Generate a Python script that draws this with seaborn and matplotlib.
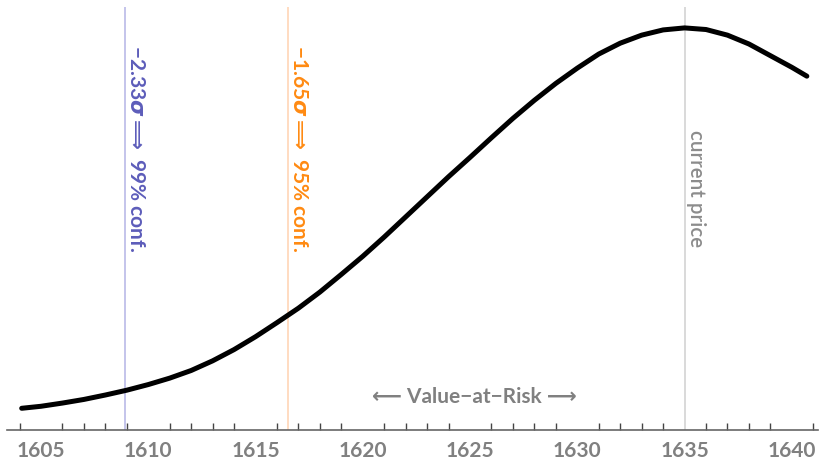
import matplotlib
matplotlib.use("Agg")
import matplotlib.pyplot as plt
import seaborn as sns
from matplotlib.ticker import MultipleLocator

# price axis and curve height (peak = 1)
curve_x = [1604.1, 1605, 1606, 1607, 1608, 1609, 1610, 1611, 1612, 1613, 1614,
           1615, 1616, 1617, 1618, 1619, 1620, 1621, 1622, 1623, 1624, 1625,
           1626, 1627, 1628, 1629, 1630, 1631, 1632, 1633, 1634, 1635, 1636,
           1637, 1638, 1639, 1640, 1640.7]
curve_y = [0.054, 0.059, 0.067, 0.076, 0.087, 0.099, 0.113, 0.129, 0.148, 0.172, 0.200,
           0.232, 0.267, 0.303, 0.343, 0.387, 0.432, 0.480, 0.530, 0.580, 0.630, 0.678,
           0.727, 0.775, 0.820, 0.862, 0.900, 0.935, 0.962, 0.982, 0.995, 1.000, 0.996,
           0.982, 0.960, 0.931, 0.902, 0.880]

# vertical markers
marker_x = [1608.9, 1616.5, 1635.0]
marker_labels = [r"−2.33$\sigma\Longrightarrow$ 99% conf.",
                 r"−1.65$\sigma\Longrightarrow$ 95% conf.",
                 "current price"]
marker_line_colors = ["#b4b4e6", "#ffd2b0", "#d0d0d0"]
marker_text_colors = ["#5d5dba", "#ff8a12", "#8c8c8c"]
marker_text_top = [0.958, 0.958, 0.746]
marker_weights = ["bold", "bold", "semibold"]
marker_sizes = [15, 15, 14.8]

var_label = "⟵ Value−at−Risk ⟶"
var_x = 1625.2

sns.set_style("white")
plt.rcParams["font.family"] = ["Lato", "DejaVu Sans"]
plt.rcParams["mathtext.fontset"] = "custom"
plt.rcParams["mathtext.it"] = "DejaVu Sans:italic:bold"
plt.rcParams["mathtext.rm"] = "DejaVu Sans:bold"

fig = plt.figure(figsize=(8.2, 4.62), dpi=100)
ax = fig.add_axes([7 / 820, 32 / 462, 811 / 820, 423 / 462])

for x, c in zip(marker_x, marker_line_colors):
    ax.axvline(x, color=c, lw=1.1, zorder=1)

sns.lineplot(x=curve_x, y=curve_y, color="black", lw=3.6, ax=ax, zorder=3)

for x, lab, c, top, w, s in zip(marker_x, marker_labels, marker_text_colors,
                                marker_text_top, marker_weights, marker_sizes):
    ax.text(x + 0.05, top, lab, rotation=270, ha="left", va="top",
            color=c, fontsize=s, fontweight=w, zorder=4)

ax.text(var_x, 0.082, var_label, ha="center", va="center", color="#808080",
        fontsize=15, fontweight="bold")

ax.set_xlim(1603.415, 1641.22)
ax.set_ylim(0, 1.052)
ax.xaxis.set_major_locator(MultipleLocator(5))
ax.xaxis.set_minor_locator(MultipleLocator(1))
ax.tick_params(axis="x", which="major", direction="in", length=8, width=1,
               color="#444444", labelsize=15, labelcolor="#808080", pad=8)
ax.tick_params(axis="x", which="minor", direction="in", length=5, width=1,
               color="#444444", bottom=True)
for lbl in ax.get_xticklabels():
    lbl.set_fontweight("bold")
ax.set_yticks([])
for side in ["top", "right", "left"]:
    ax.spines[side].set_visible(False)
ax.spines["bottom"].set_color("#666666")
ax.spines["bottom"].set_linewidth(1.2)
ax.set_xlabel("")
ax.set_ylabel("")

fig.savefig("out.png", dpi=100)
